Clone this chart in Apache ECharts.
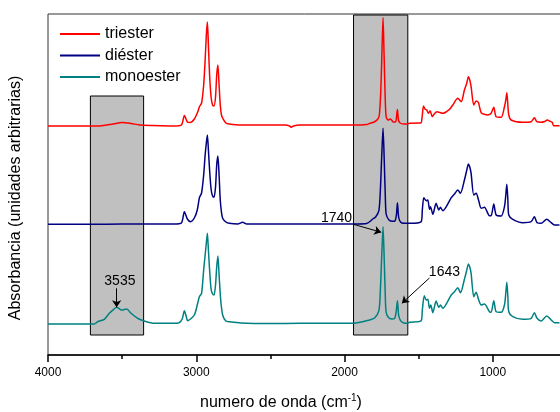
<!DOCTYPE html>
<html><head><meta charset="utf-8">
<script src="https://cdn.jsdelivr.net/npm/echarts@6/dist/echarts.min.js"></script>
<style>html,body{margin:0;padding:0;background:#fff}#c{width:560px;height:412px}</style>
</head><body><div id="c"></div>
<script>
var seriesNames = ['triester', 'diéster', 'monoester'];
var xTicks = [4000, 3000, 2000, 1000];
var triester = [[4000,229],[3714,229],[3650,229],[3560,231],[3500,232.5],[3440,231.5],[3380,230],[3300,229.5],[3150,229],[3100,230],[3080,239.5],[3060,233],[3040,232.5],[3013,236],[2990,243],[2978,248.5],[2964,252],[2950,270],[2940,295],[2932,320],[2925,333],[2918,310],[2910,280],[2900,258],[2890,250],[2880,249],[2870,258],[2862,280],[2854,290],[2846,270],[2838,250],[2830,240],[2822,237],[2800,232],[2777,231],[2700,230],[2600,230],[2500,230],[2400,230],[2370,229],[2359,227.7],[2345,229],[2300,230],[2100,230],[1939,230],[1850,230.5],[1831,231.5],[1800,233],[1775,236],[1765,240],[1755,265],[1748,300],[1740,337.5],[1733,300],[1726,260],[1719,238],[1705,235],[1690,236],[1670,233],[1655,233],[1648,240],[1643,245.5],[1636,235],[1625,232],[1600,231],[1573,231],[1562,231.7],[1490,232],[1483,232],[1475,240],[1467,249],[1456,245.7],[1445,245],[1434,241.7],[1422,244.3],[1409,238.3],[1395,241],[1377,243.3],[1337,241.7],[1292,245.7],[1270,250],[1236,256.7],[1213,253.3],[1191,265],[1175,272],[1164,278.3],[1155,275],[1146,268.3],[1128,250],[1112,254],[1096,252.3],[1078,242.3],[1034,240],[1011,241.7],[993,247.7],[977,238.3],[943,237.7],[921,248.3],[912,255],[905,262.3],[898,250],[892,240],[876,235],[798,232.7],[741,233.3],[719,237.3],[703,233.3],[674,232.7],[650,233.5],[633,235],[610,233.5],[599,232.7],[589,229.3],[550,229.3]];
var diester = [[4000,130.7],[3714,130.7],[3500,131],[3300,131],[3150,131],[3100,132],[3080,143.3],[3060,136],[3038,133.3],[3013,137],[2993,145],[2978,157.7],[2964,162],[2950,180],[2940,200],[2932,212],[2925,220],[2918,205],[2910,185],[2900,166],[2890,159],[2880,157.7],[2870,168],[2862,190],[2854,199],[2846,180],[2838,155],[2830,143],[2822,136.7],[2800,133],[2777,131.7],[2720,131],[2687,132.7],[2660,131],[2500,131],[2400,131],[2200,131],[1939,131],[1850,131.5],[1809,136],[1790,138],[1768,144.3],[1758,165],[1750,195],[1740,226.7],[1732,195],[1725,160],[1719,141],[1700,135],[1674,133.7],[1660,134],[1650,140],[1643,152.3],[1635,138],[1622,133],[1600,131.7],[1573,131.7],[1562,131.7],[1483,133.3],[1475,145],[1465,157.3],[1449,154.3],[1438,155],[1427,145.7],[1420,148.3],[1404,140.7],[1382,151.7],[1364,145],[1353,147.7],[1337,144.3],[1280,157.3],[1270,159],[1258,161],[1236,165],[1218,161.7],[1191,175],[1175,185],[1164,191],[1155,188],[1146,181.7],[1128,160],[1112,161.7],[1096,155],[1078,146.7],[1056,147.7],[1022,139.3],[1011,139.3],[993,151],[977,140],[943,139],[921,148.3],[912,160],[905,170.7],[898,155],[892,140],[865,135.7],[798,132.3],[741,133.3],[719,138.3],[701,132.3],[674,131.7],[636,135.7],[606,132.3],[584,130],[550,130]];
var monoester = [[4000,31],[3714,31],[3687,31],[3665,33.3],[3620,35.7],[3586,41.7],[3557,45.7],[3537,47.7],[3503,45],[3469,46],[3440,41.7],[3395,36.7],[3350,34],[3283,31.7],[3204,31.7],[3120,32],[3095,36],[3080,44.3],[3065,37],[3058,34.3],[3013,40],[2990,52],[2979,58.3],[2964,61.7],[2950,85],[2940,100],[2932,112],[2925,121.7],[2918,105],[2910,85],[2900,66],[2890,61],[2880,60],[2870,70],[2862,88],[2854,99],[2846,80],[2835,55],[2822,40],[2800,34],[2777,33.3],[2699,32],[2500,31.5],[2300,31.7],[1939,31.7],[1831,35],[1797,37],[1768,44.3],[1758,65],[1750,95],[1740,128.3],[1732,95],[1725,60],[1719,42.7],[1700,37],[1674,36],[1660,37],[1650,45],[1643,54.3],[1635,40],[1622,34.3],[1600,32],[1573,31.7],[1562,32.7],[1483,34.3],[1475,45],[1462,59.3],[1449,55],[1438,55.7],[1427,46.7],[1418,50],[1404,42.3],[1382,54],[1364,47.7],[1353,50],[1337,46.7],[1280,60],[1258,63.3],[1236,67.3],[1218,62.3],[1191,75.7],[1175,85],[1164,91],[1155,88],[1146,81.7],[1128,58.3],[1112,62.7],[1096,55.7],[1078,50],[1056,51],[1022,43.3],[1011,42.7],[993,54.3],[977,43.3],[943,42.7],[921,50],[912,62],[905,72.7],[898,58],[892,43.3],[865,38.3],[798,35.7],[741,36.7],[719,42.3],[701,36.7],[674,34],[636,39],[606,35],[584,32.3],[550,32.3]];
var boxes = [[[3714,20],[3355,259]],[[1939,20],[1573,340]]];
var peakLabels = [{text:'3535', at:[3515,74.3]},{text:'1740', at:[2054,136.7]},{text:'1643', at:[1326,83.3]}];
var arrows = [[[3537,66.7],[3537,47.7]],[[1939,130.7],[1752,122.7]],[[1427,77],[1613,51.7]]];
var colors = ['#ff0000', '#000080', '#008080'];
var FONT = 'Liberation Sans, Arial, sans-serif';

var chart = echarts.init(document.getElementById('c'), null, {renderer:'canvas'});
function lineSeries(name, data, color) {
  return {name:name, type:'line', data:data, symbol:'none', showSymbol:false, smooth:0.25, color:color,
    lineStyle:{color:color, width:1.5}, z:3, animation:false};
}
var option = {
  animation:false,
  grid:{left:48, top:14, width:593, height:341, outerBoundsMode:'none', containLabel:false, show:true, borderColor:'#333', borderWidth:1, backgroundColor:'transparent'},
  legend:{data:seriesNames.map(function(n,i){return {name:n, icon:'rect', itemStyle:{color:colors[i]}};}),
    orient:'vertical', left:55, top:20, itemWidth:40, itemHeight:2, itemGap:3.5,
    textStyle:{fontFamily:FONT, fontSize:16, color:'#000', lineHeight:18}},
  xAxis:{type:'value', inverse:true, min:0, max:4000, interval:1000,
    axisLine:{show:true, onZero:false, lineStyle:{color:'#000', width:1.5}},
    axisTick:{show:true, length:7, lineStyle:{color:'#000', width:1.5}},
    minorTick:{show:true, splitNumber:2, length:4, lineStyle:{color:'#000', width:1.5}},
    axisLabel:{margin:12, fontFamily:FONT, fontSize:12, color:'#000',
      formatter:function(v){return xTicks.indexOf(v)>=0 ? String(v) : '';}},
    splitLine:{show:false}},
  yAxis:{type:'value', min:0, max:341,
    axisLine:{show:true, lineStyle:{color:'#000', width:1.5}},
    axisTick:{show:false}, axisLabel:{show:false}, splitLine:{show:false}},
  graphic:[
    {type:'text', x:16, y:198, rotation:Math.PI/2, style:{text:'Absorbancia (unidades arbitrarias)', font:'16px '+FONT, fill:'#000', textAlign:'center', textVerticalAlign:'middle'}},
    {type:'text', x:281, y:403, style:{text:'{a|numero de onda (cm}{s|-1}{a|)}', textAlign:'center', textVerticalAlign:'middle',
      rich:{a:{fontFamily:FONT, fontSize:16, fill:'#000', lineHeight:20}, s:{fontFamily:FONT, fontSize:10, fill:'#000', lineHeight:20, padding:[0,0,10,0]}}}}
  ],
  series:[
    {type:'line', data:[], z:1, silent:true,
      markArea:{silent:true, itemStyle:{color:'#c0c0c0', borderColor:'#000', borderWidth:1},
        data:boxes.map(function(b){return [{coord:b[0]},{coord:b[1]}];})},
      markLine:{silent:true, symbol:['none','arrow'], symbolSize:7, label:{show:false},
        lineStyle:{color:'#000', width:1, type:'solid'},
        data:arrows.map(function(a){return [{coord:a[0]},{coord:a[1]}];})},
      markPoint:{silent:true, symbol:'circle', symbolSize:0,
        label:{show:true, position:'inside', fontFamily:FONT, fontSize:14, color:'#000', formatter:function(p){return p.name;}},
        data:peakLabels.map(function(p){return {name:p.text, coord:p.at};})}
    },
    lineSeries(seriesNames[0], triester, colors[0]),
    lineSeries(seriesNames[1], diester, colors[1]),
    lineSeries(seriesNames[2], monoester, colors[2])
  ]
};
chart.setOption(option);
</script></body></html>
